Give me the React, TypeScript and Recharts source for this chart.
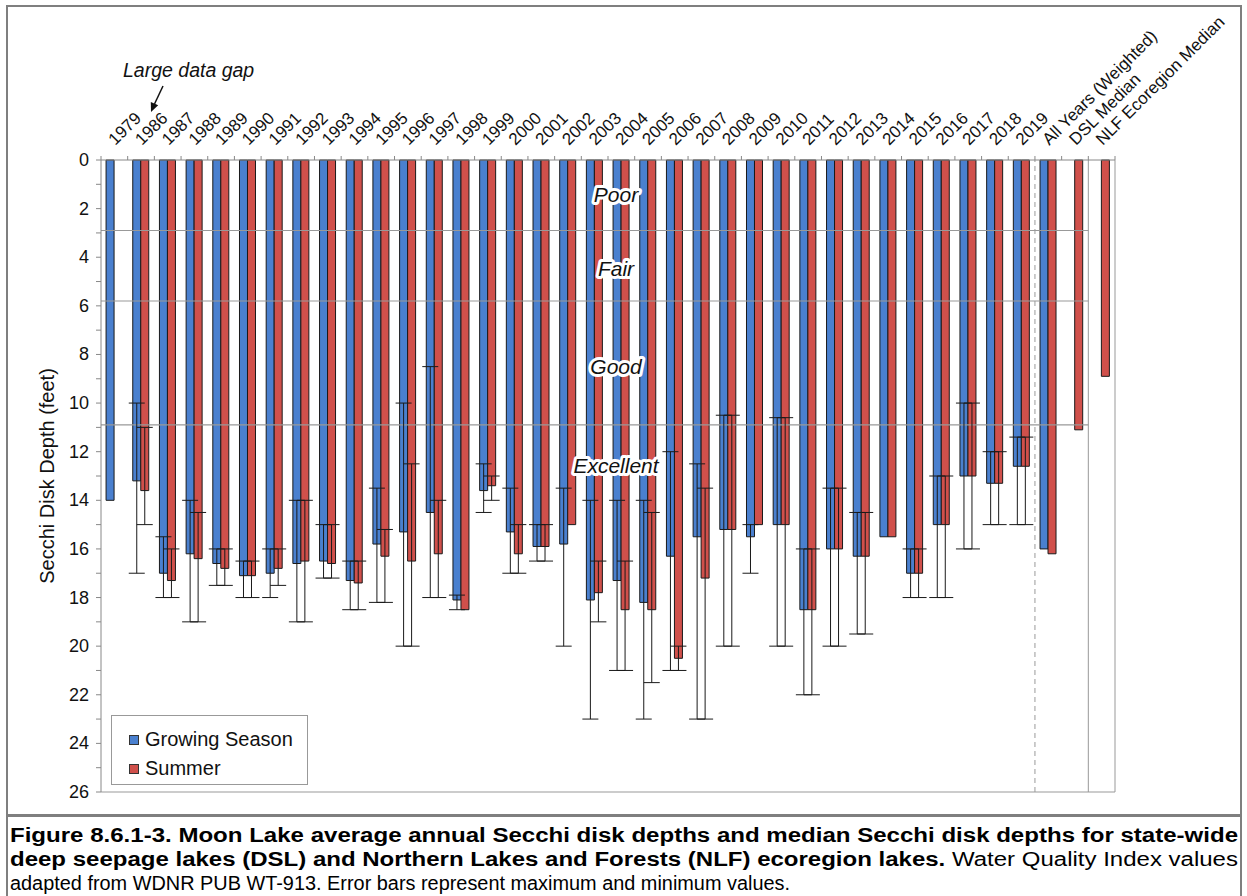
import React from "react";
import { BarChart, Bar, XAxis, YAxis, ErrorBar, ReferenceLine, ReferenceDot } from "recharts";

const FONT = "Arial, 'Liberation Sans', Helvetica, sans-serif";

const categories = [
  "1979", "1986", "1987", "1988", "1989", "1990", "1991", "1992", "1993", "1994",
  "1995", "1996", "1997", "1998", "1999", "2000", "2001", "2002", "2003", "2004",
  "2005", "2006", "2007", "2008", "2009", "2010", "2011", "2012", "2013", "2014",
  "2015", "2016", "2017", "2018", "2019", "All Years (Weighted)", "DSL Median", "NLF Ecoregion Median",
];

// Secchi depths (feet)
const growingSeason = [
  14.0, 13.2, 17.0, 16.2, 16.6, 17.1, 17.0, 16.6, 16.5, 17.3,
  15.8, 15.3, 14.5, 18.1, 13.6, 15.3, 15.9, 15.8, 18.1, 17.3,
  18.2, 16.3, 15.5, 15.2, 15.5, 15.0, 18.5, 16.0, 16.3, 15.5,
  17.0, 15.0, 13.0, 13.3, 12.6, 16.0, null, null,
];
const summer = [
  null, 13.6, 17.3, 16.4, 16.8, 17.1, 16.8, 16.5, 16.6, 17.4,
  16.3, 16.5, 16.2, 18.5, 13.4, 16.2, 15.9, 15.0, 17.8, 18.5,
  18.5, 20.5, 17.2, 15.2, 15.0, 15.0, 18.5, 16.0, 16.3, 15.5,
  17.0, 15.0, 13.0, 13.3, 12.6, 16.2, 11.1, 8.9,
];

// error bars: minimum / maximum depth
const growingMin = [
  null, 10, 15.5, 14, 16, 16.5, 16, 14, 15, 16.5,
  13.5, 10, 8.5, 17.9, 12.5, 13.5, 15, 13.5, 14, 14,
  14, 12, 12.5, 10.5, 15, 10.6, 16, 13.5, 14.5, null,
  16, 13, 10, 12, 11.4, null, null, null,
];
const growingMax = [
  null, 17, 18, 19, 17.5, 18, 18, 19, 17.2, 18.5,
  18.2, 20, 18, 18.5, 14.5, 17, 16.5, 20, 23, 21,
  23, 21, 23, 20, 17, 20, 22, 20, 19.5, null,
  18, 18, 16, 15, 15, null, null, null,
];
const summerMin = [
  null, 11, 16, 14.5, 16, 16.5, 16, 14, 15, 16.5,
  15.2, 12.5, 14, null, 13, 15, 15, null, 16.5, 16.5,
  14.5, 20, 13.5, 10.5, null, 10.6, 16, 13.5, 14.5, null,
  16, 13, 10, 12, 11.4, null, null, null,
];
const summerMax = [
  null, 15, 18, 19, 17.5, 18, 17.5, 19, 17.2, 18.5,
  18.2, 20, 18, null, 14, 17, 16.5, null, 19, 21,
  21.5, 21, 23, 20, null, 20, 22, 20, 19.5, null,
  18, 18, 16, 15, 15, null, null, null,
];

const depthTicks = Array.from({ length: 27 }, (_, i) => i);
const qualityBreaks = [2.9, 5.8, 10.9];
const qualityNames = ["Poor", "Fair", "Good", "Excellent"];
const qualityLabelDepths = [1.45, 4.5, 8.5, 12.6];

const BLUE = "#4a80cf";
const RED = "#d0504b";

const errRange = (v: number | null, lo: number | null, hi: number | null) =>
  v == null || lo == null || hi == null ? null : [v - lo, hi - v];

const data = categories.map((c, i) => ({
  category: c,
  idx: i + 0.5,
  growing: growingSeason[i],
  summer: summer[i],
  growingErr: errRange(growingSeason[i], growingMin[i], growingMax[i]),
  summerErr: errRange(summer[i], summerMin[i], summerMax[i]),
}));

const YearTick = (props: any) => {
  const { x, y, payload, index } = props;
  const half = payload.offset || 0;
  const last = index === categories.length - 1;
  return (
    <g>
      <line x1={x - half} y1={y} x2={x - half} y2={y - 4} stroke="#888" />
      {last && <line x1={x + half} y1={y} x2={x + half} y2={y - 4} stroke="#888" />}
      <text
        x={x + 1}
        y={y - 14}
        transform={`rotate(-45, ${x + 1}, ${y - 14})`}
        fontSize={17}
        fontFamily={FONT}
        fill="#111"
        textAnchor="start"
      >
        {payload.value}
      </text>
    </g>
  );
};

const DepthTick = (props: any) => {
  const { x, y, payload } = props;
  if (payload.value % 2 !== 0) return <g />;
  return (
    <text x={x + 1} y={y} dy={6} textAnchor="end" fontSize={18} fontFamily={FONT} fill="#111">
      {payload.value}
    </text>
  );
};

const QualityLabel = (props: any) => {
  const { viewBox, value } = props;
  const cx = viewBox.x + (viewBox.width || 0) / 2;
  const cy = viewBox.y + (viewBox.height || 0) / 2;
  return (
    <text
      x={cx}
      y={cy}
      dy={7}
      textAnchor="middle"
      fontSize={21}
      fontStyle="italic"
      fontFamily={FONT}
      fill="#111"
      stroke="#fff"
      strokeWidth={6}
      strokeLinejoin="round"
      paintOrder="stroke"
    >
      {value}
    </text>
  );
};

const legendItems = [
  { name: "Growing Season", color: BLUE },
  { name: "Summer", color: RED },
];

export default function App() {
  return (
    <div
      style={{
        position: "absolute",
        left: 0,
        top: 0,
        width: 1247,
        height: 896,
        background: "#fff",
        fontFamily: FONT,
        overflow: "hidden",
      }}
    >
      {/* figure frame */}
      <div
        style={{
          position: "absolute",
          left: 6,
          top: 5,
          width: 1236,
          height: 812,
          border: "2px solid #7f7f7f",
          borderBottom: "3px solid #7f7f7f",
          boxSizing: "border-box",
        }}
      />
      <div
        style={{
          position: "absolute",
          left: 6,
          top: 816,
          width: 1236,
          height: 100,
          borderLeft: "2px solid #7f7f7f",
          borderRight: "2px solid #7f7f7f",
          boxSizing: "border-box",
        }}
      />

      <div style={{ position: "absolute", left: 0, top: 0 }}>
        <BarChart
          width={1247}
          height={815}
          data={data}
          margin={{ top: 130, right: 132, bottom: 23, left: 41 }}
          barCategoryGap="19%"
          barGap={0}
        >
          <XAxis
            xAxisId="cat"
            dataKey="category"
            orientation="top"
            interval={0}
            height={30}
            tickSize={0}
            tickMargin={0}
            tickLine={false}
            axisLine={{ stroke: "#888" }}
            tick={<YearTick />}
          />
          <XAxis xAxisId="num" type="number" dataKey="idx" domain={[0, 38]} hide />
          <YAxis
            reversed
            domain={[0, 26]}
            ticks={depthTicks}
            interval={0}
            width={60}
            tickSize={5}
            tickMargin={8}
            tickLine={{ stroke: "#888" }}
            axisLine={{ stroke: "#888" }}
            tick={<DepthTick />}
            label={{
              value: "Secchi Disk Depth (feet)",
              angle: -90,
              position: "insideLeft",
              offset: 6,
              style: { fontSize: 20, fontFamily: FONT, fill: "#111", textAnchor: "middle" },
            }}
          />

          {qualityBreaks.map((b) => (
            <ReferenceLine
              key={b}
              xAxisId="num"
              segment={[{ x: 0, y: b }, { x: 37, y: b }]}
              stroke="#999"
              strokeWidth={1.2}
            />
          ))}
          <ReferenceLine xAxisId="num" segment={[{ x: 0, y: 26 }, { x: 38, y: 26 }]} stroke="#999" />
          <ReferenceLine xAxisId="num" x={35} stroke="#999" strokeDasharray="5 4" />
          <ReferenceLine xAxisId="num" x={37} stroke="#999" />
          <ReferenceLine xAxisId="num" x={38} stroke="#999" />

          <Bar
            xAxisId="cat"
            dataKey="growing"
            name="Growing Season"
            fill={BLUE}
            stroke="#1a1a1a"
            strokeWidth={1}
            isAnimationActive={false}
          >
            <ErrorBar dataKey="growingErr" width={8} stroke="#1a1a1a" strokeWidth={1} direction="y" />
          </Bar>
          <Bar
            xAxisId="cat"
            dataKey="summer"
            name="Summer"
            fill={RED}
            stroke="#1a1a1a"
            strokeWidth={1}
            isAnimationActive={false}
          >
            <ErrorBar dataKey="summerErr" width={8} stroke="#1a1a1a" strokeWidth={1} direction="y" />
          </Bar>

          {qualityNames.map((q, i) => (
            <ReferenceDot
              key={q}
              xAxisId="num"
              x={19.3}
              y={qualityLabelDepths[i]}
              r={0}
              fill="none"
              stroke="none"
              label={{ value: q, content: <QualityLabel /> }}
            />
          ))}
        </BarChart>
      </div>

      {/* annotation */}
      <svg style={{ position: "absolute", left: 0, top: 0 }} width={400} height={130}>
        <text x={123} y={77} fontSize={19.5} fontStyle="italic" fontFamily={FONT} fill="#111">
          Large data gap
        </text>
        <line x1={163} y1={86} x2={154.5} y2={104} stroke="#111" strokeWidth={1.5} />
        <polygon points="151,112 158.2,105.3 150.8,102.1" fill="#111" />
      </svg>

      {/* legend */}
      <div
        style={{
          position: "absolute",
          left: 111,
          top: 715,
          width: 197,
          height: 70,
          border: "1px solid #999",
          background: "#fff",
          boxSizing: "border-box",
          padding: "9px 0 0 17px",
        }}
      >
        {legendItems.map((it) => (
          <div key={it.name} style={{ display: "flex", alignItems: "center", height: 29, fontSize: 20, color: "#111" }}>
            <span
              style={{
                display: "inline-block",
                width: 8,
                height: 8,
                background: it.color,
                border: "1px solid #333",
                marginRight: 6,
              }}
            />
            {it.name}
          </div>
        ))}
      </div>

      {/* caption */}
      <svg style={{ position: "absolute", left: 0, top: 816 }} width={1247} height={80}>
        <text x={10} y={26} fontSize={20} fontFamily={FONT} fill="#000" fontWeight="bold" textLength={1228} lengthAdjust="spacingAndGlyphs">
          Figure 8.6.1-3. Moon Lake average annual Secchi disk depths and median Secchi disk depths for state-wide
        </text>
        <text x={10} y={50} fontSize={20} fontFamily={FONT} fill="#000" textLength={1228} lengthAdjust="spacingAndGlyphs">
          <tspan fontWeight="bold">deep seepage lakes (DSL) and Northern Lakes and Forests (NLF) ecoregion lakes.</tspan>
          <tspan> Water Quality Index values</tspan>
        </text>
        <text x={10} y={74} fontSize={20} fontFamily={FONT} fill="#000" textLength={780} lengthAdjust="spacingAndGlyphs">
          adapted from WDNR PUB WT-913.  Error bars represent maximum and minimum values.
        </text>
      </svg>
    </div>
  );
}
